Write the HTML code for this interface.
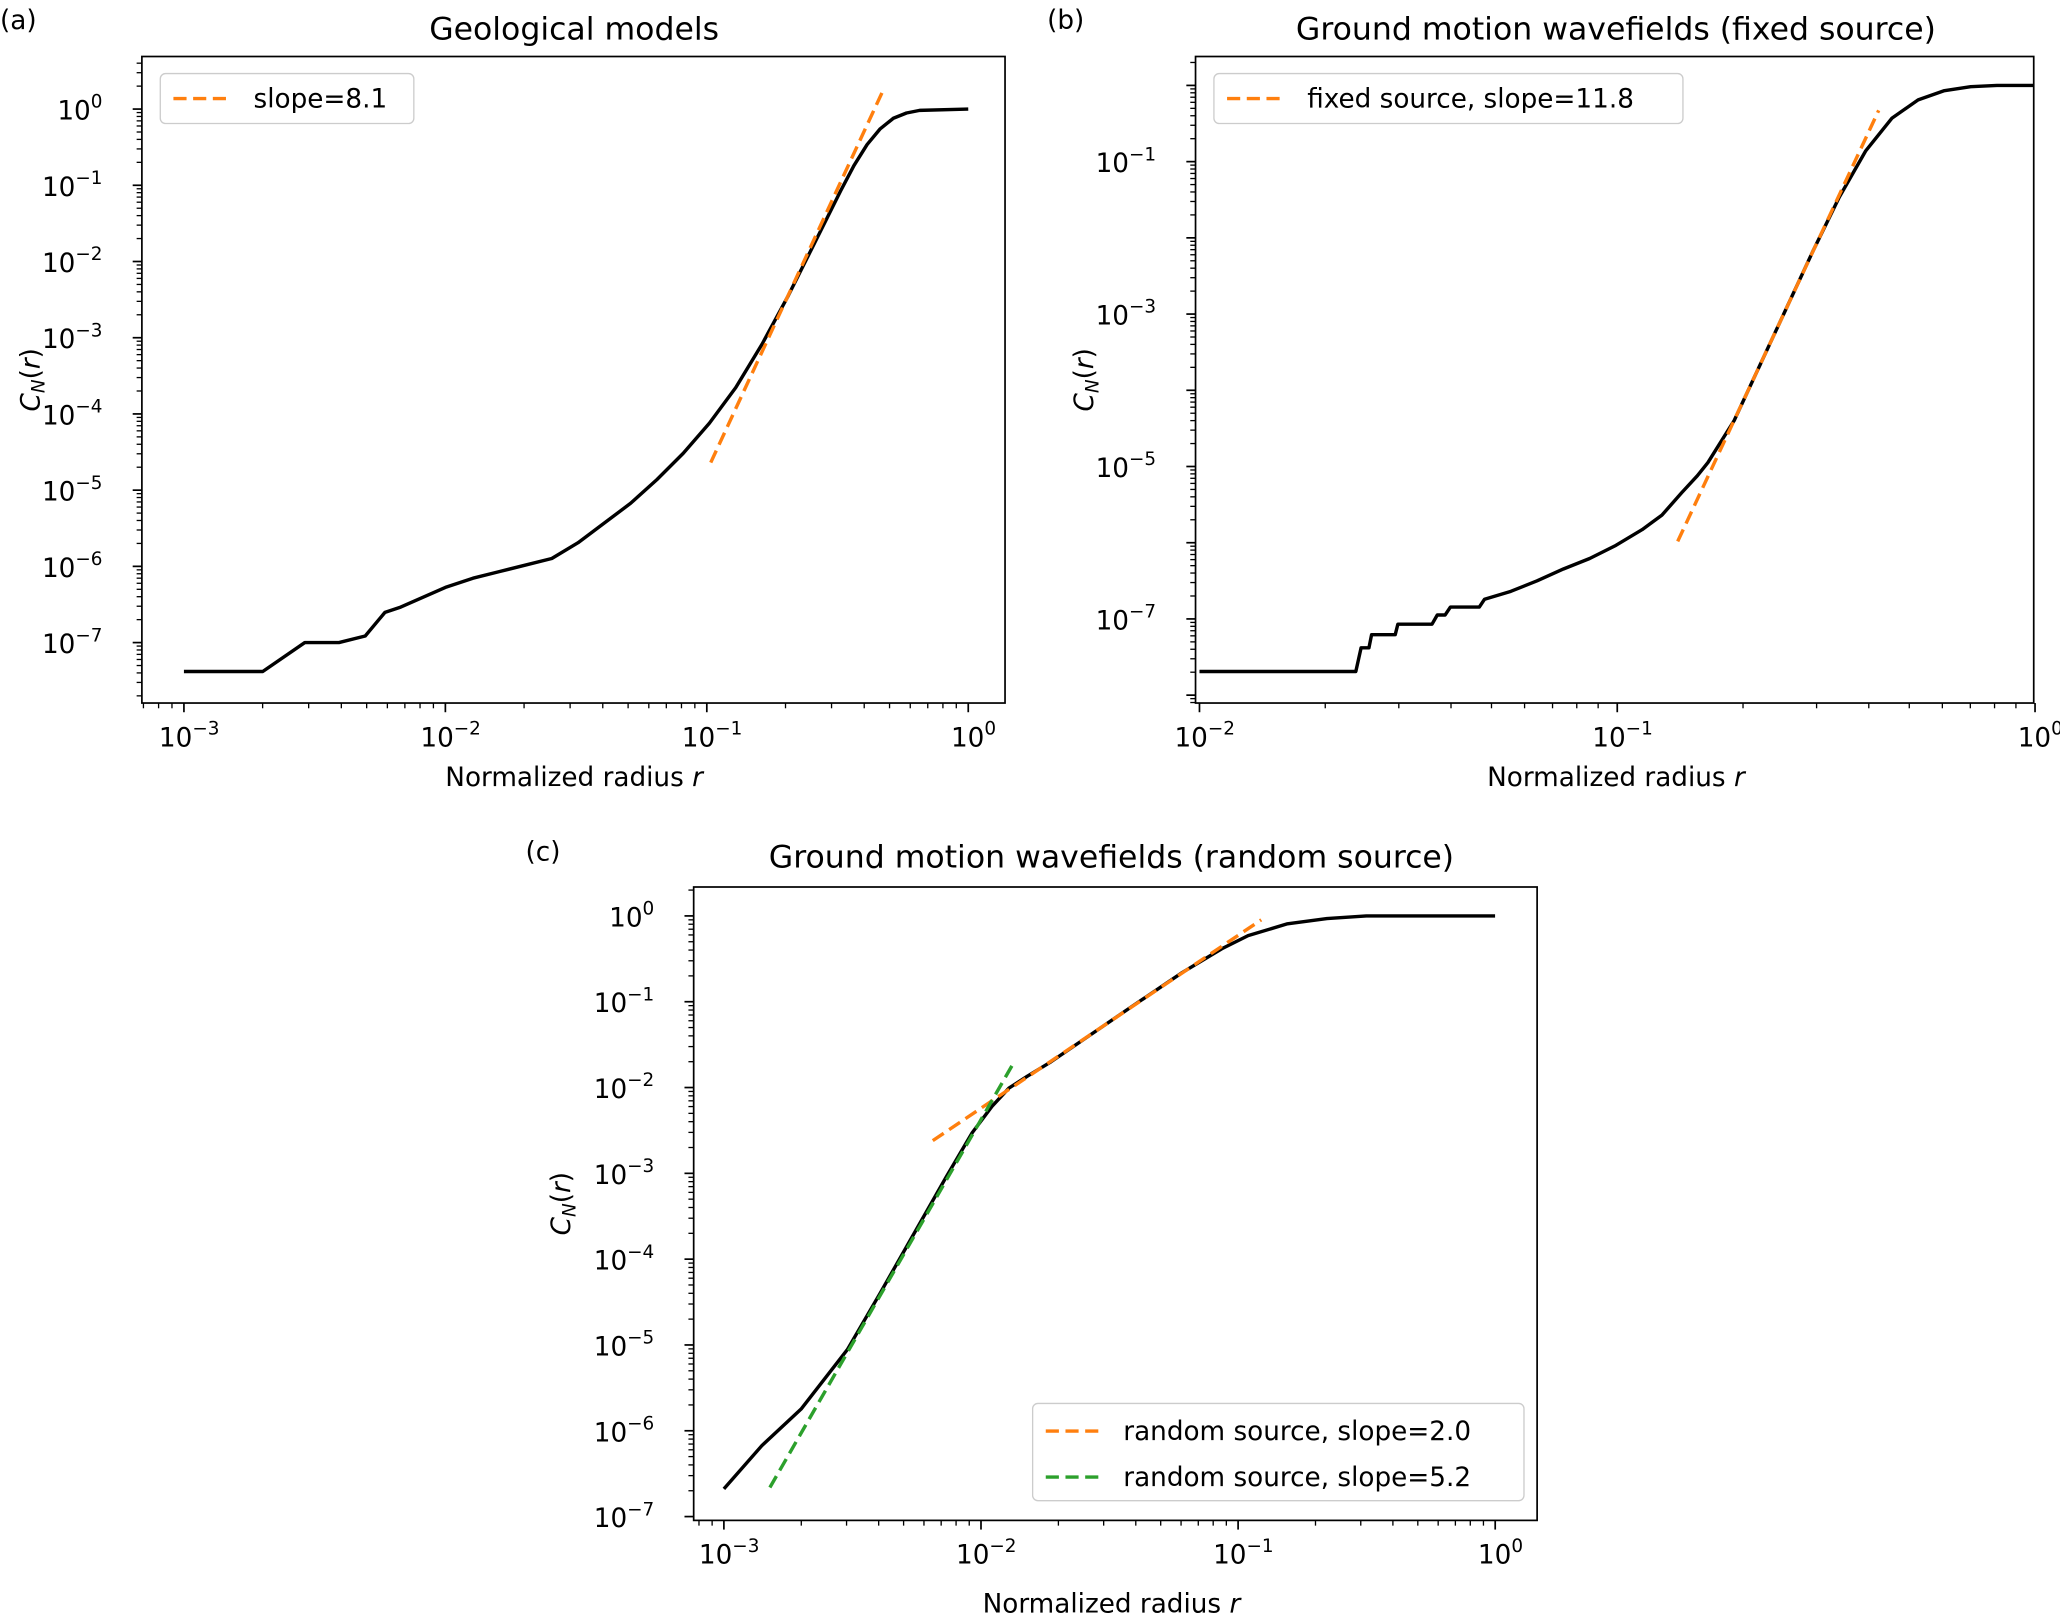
<!DOCTYPE html>
<html><head><meta charset="utf-8"><style>
html,body{margin:0;padding:0;background:#fff;}
svg{display:block;font-family:"DejaVu Sans","Liberation Sans",sans-serif;}
</style></head><body>
<svg id="s" width="2060" height="1615" viewBox="0 0 1568 1229" preserveAspectRatio="none" xmlns="http://www.w3.org/2000/svg">
<rect width="1568" height="1229" fill="#fff"/>
<g font-size="20" fill="#000">
<text x="0" y="22">(a)</text>
<text x="797" y="22">(b)</text>
<text x="400" y="655">(c)</text>
<text x="437" y="30" text-anchor="middle" font-size="24">Geological models</text>
<text x="1230" y="30" text-anchor="middle" font-size="24">Ground motion wavefields (fixed source)</text>
<text x="846" y="660" text-anchor="middle" font-size="24">Ground motion wavefields (random source)</text>
<text x="437" y="598" text-anchor="middle">Normalized radius <tspan font-style="italic">r</tspan></text>
<text x="1230" y="598" text-anchor="middle">Normalized radius <tspan font-style="italic">r</tspan></text>
<text x="846" y="1227" text-anchor="middle">Normalized radius <tspan font-style="italic">r</tspan></text>
<text transform="translate(30,289) rotate(-90)" text-anchor="middle" font-style="italic">C<tspan font-size="14" dy="4">N</tspan><tspan dy="-4" font-style="normal">(</tspan>r<tspan font-style="normal">)</tspan></text>
<text transform="translate(832,289) rotate(-90)" text-anchor="middle" font-style="italic">C<tspan font-size="14" dy="4">N</tspan><tspan dy="-4" font-style="normal">(</tspan>r<tspan font-style="normal">)</tspan></text>
<text transform="translate(434,916) rotate(-90)" text-anchor="middle" font-style="italic">C<tspan font-size="14" dy="4">N</tspan><tspan dy="-4" font-style="normal">(</tspan>r<tspan font-style="normal">)</tspan></text>
</g>
<g id="ticks"></g>
<g fill="none" stroke-linejoin="round">
<polyline stroke="#000" stroke-width="2.6" points="140,511 200,511 232,489 258,489 278,484 293,466 305,462 339,447 360,440 380,435 400,430 420,425 440,413 460,398 480,383 500,365 520,345 540,322 560,295 580,262 600,225 620,185 640,145 650,126 660,110 670,98 680,90 690,86 700,84 737,83"/>
<line x1="541" y1="352" x2="673" y2="67" stroke="#ff7f0e" stroke-width="2.6" stroke-dasharray="10,5"/>
<polyline stroke="#000" stroke-width="2.6" points="913,511 1032,511 1036,493 1042,493 1044,483 1062,483 1064,475 1090,475 1094,468 1100,468 1104,462 1126,462 1130,456 1150,450 1170,442 1190,433 1210,425 1230,415 1250,403 1265,392 1280,375 1292,362 1300,352 1320,320 1340,277 1360,234 1380,191 1400,150 1420,115 1440,90 1460,76 1480,69 1500,66 1520,65 1548,65"/>
<line x1="1277" y1="412" x2="1430" y2="84" stroke="#ff7f0e" stroke-width="2.6" stroke-dasharray="10,5"/>
<polyline stroke="#000" stroke-width="2.6" points="551,1133 580,1100 610,1072 645,1027 670,984 695,940 720,896 740,862 755,842 768,828 782,819 800,808 860,767 900,740 930,722 950,712 980,703 1010,699 1040,697 1138,697"/>
<line x1="710" y1="868" x2="960" y2="700" stroke="#ff7f0e" stroke-width="2.6" stroke-dasharray="10,5"/>
<line x1="586" y1="1132" x2="772" y2="808" stroke="#2ca02c" stroke-width="2.6" stroke-dasharray="10,5"/>
</g>
<g fill="none" stroke="#000" stroke-width="1.3">
<rect x="108" y="43" width="657" height="492"/>
<rect x="910" y="43" width="638" height="492"/>
<rect x="528" y="675" width="642" height="482"/>
</g>
<g font-size="20">
<rect x="122" y="56" width="193" height="38" rx="4" fill="#fff" stroke="#ccc"/>
<line x1="132" y1="75" x2="172" y2="75" stroke="#ff7f0e" stroke-width="2.6" stroke-dasharray="10,5"/>
<text x="193" y="82">slope=8.1</text>
<rect x="924" y="56" width="357" height="38" rx="4" fill="#fff" stroke="#ccc"/>
<line x1="934" y1="75" x2="974" y2="75" stroke="#ff7f0e" stroke-width="2.6" stroke-dasharray="10,5"/>
<text x="995" y="82">fixed source, slope=11.8</text>
<rect x="786" y="1068" width="374" height="74" rx="4" fill="#fff" stroke="#ccc"/>
<line x1="796" y1="1089" x2="836" y2="1089" stroke="#ff7f0e" stroke-width="2.6" stroke-dasharray="10,5"/>
<text x="855" y="1096">random source, slope=2.0</text>
<line x1="796" y1="1124" x2="836" y2="1124" stroke="#2ca02c" stroke-width="2.6" stroke-dasharray="10,5"/>
<text x="855" y="1131">random source, slope=5.2</text>
</g>
</svg>
<script>
var g=document.getElementById('ticks'),NS='http://www.w3.org/2000/svg';
function ln(x1,y1,x2,y2,w){var l=document.createElementNS(NS,'line');l.setAttribute('x1',x1);l.setAttribute('y1',y1);l.setAttribute('x2',x2);l.setAttribute('y2',y2);l.setAttribute('stroke','#000');l.setAttribute('stroke-width',w);g.appendChild(l);}
function tx(x,y,e,anchor){var t=document.createElementNS(NS,'text');t.setAttribute('x',x);t.setAttribute('y',y);t.setAttribute('text-anchor',anchor);t.setAttribute('font-size','20');t.textContent='10';var s=document.createElementNS(NS,'tspan');s.setAttribute('dy','-9');s.setAttribute('font-size','14');s.textContent=e;t.appendChild(s);g.appendChild(t);}
function sup(n){return n<0?'\u2212'+(-n):''+n;}
function xaxis(x0,dec,e0,e1,ybot,xmin,xmax){
 for(var e=e0-1;e<=e1;e++){var b=x0+(e-e0)*dec;
  if(b>=xmin-0.5&&b<=xmax+2&&e>=e0){ln(b,ybot,b,ybot+7,1.3);tx(b+4,ybot+33,sup(e),'middle');}
  for(var m=2;m<10;m++){var x=b+Math.log10(m)*dec;if(x>xmin&&x<xmax)ln(x,ybot,x,ybot+4,1);}
 }}
xaxis(140,199,-3,0,535,108,765);
xaxis(913,318,-2,0,535,910,1548);
xaxis(551,195.7,-3,0,1157,528,1170);
function yaxis(y0,dec,e0,e1,xl,ymin,ymax,odd){
 for(var e=e0+1;e>=e1-1;e--){var b=y0+(e0-e)*dec;
  if(e<=e0&&e>=e1&&b>=ymin&&b<=ymax){ln(xl,b,xl-7,b,1.3);if(!odd||(Math.abs(e)%2==1))tx(xl-30,b+8,sup(e),'end');}
  for(var m=2;m<10;m++){var y=b-Math.log10(m)*dec;if(y>ymin&&y<ymax)ln(xl,y,xl-4,y,1);}
 }}
yaxis(83,58,0,-7,108,43,535,false);
yaxis(65,58,0,-8,910,43,535,true);
yaxis(697,65.3,0,-7,528,675,1157,false);
</script>
</body></html>
